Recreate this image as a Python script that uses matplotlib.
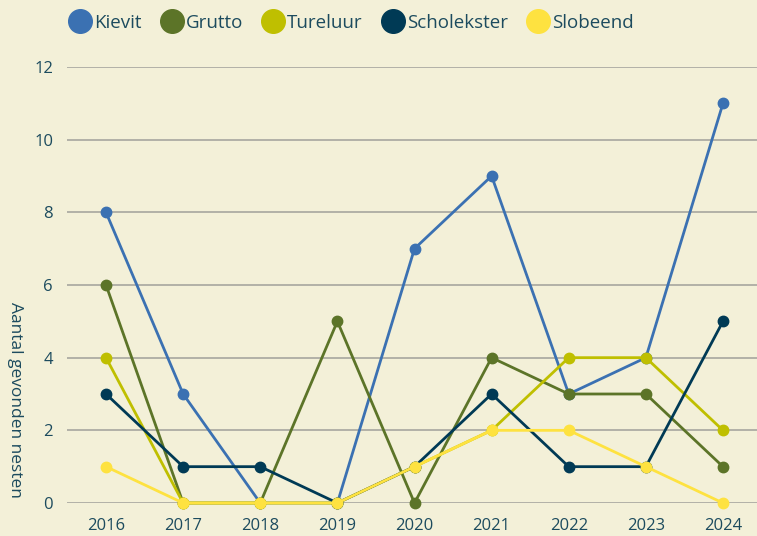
import matplotlib
matplotlib.use("Agg")
import matplotlib.pyplot as plt
from matplotlib.lines import Line2D

years = [2016, 2017, 2018, 2019, 2020, 2021, 2022, 2023, 2024]
kievit = [8, 3, 0, 0, 7, 9, 3, 4, 11]
grutto = [6, 0, 0, 5, 0, 4, 3, 3, 1]
tureluur = [4, 0, 0, 0, 1, 2, 4, 4, 2]
scholekster = [3, 1, 1, 0, 1, 3, 1, 1, 5]
slobeend = [1, 0, 0, 0, 1, 2, 2, 1, 0]
series_names = ["Kievit", "Grutto", "Tureluur", "Scholekster", "Slobeend"]
colors = ["#3b71b2", "#5c7428", "#bfbf00", "#003a55", "#fee240"]
yticks = [0, 2, 4, 6, 8, 10, 12]

bg = "#f3f0d8"
txt = "#1c4b5e"
plt.rcParams['font.family'] = ['Open Sans', 'DejaVu Sans']

fig = plt.figure(figsize=(7.57, 5.36), dpi=100, facecolor=bg)
ax = fig.add_axes([67/757, 33/536, (757-67)/757, (503-67)/536], facecolor=bg)

for name, vals, c in zip(series_names, [kievit, grutto, tureluur, scholekster, slobeend], colors):
    ax.plot(years, vals, color=c, lw=2, marker='o', ms=7.5, clip_on=False, label=name, zorder=3)

ax.set_ylim(0, 12)
ax.set_xlim(2016 - 39/77.1, 2024 + 34/77.1)
ax.set_yticks(yticks)
ax.set_xticks(years)
ax.grid(axis='y', color='#a0a09a', lw=1.1)
ax.set_axisbelow(True)
for s in ax.spines.values():
    s.set_visible(False)
ax.tick_params(axis='both', length=0, colors=txt, labelsize=12)
ax.tick_params(axis='y', pad=10)
ax.tick_params(axis='x', pad=11)
fig.text(15/757, 1 - 400/536, "Aantal gevonden nesten", rotation=-90, color=txt, fontsize=12.5,
         ha='center', va='center')

handles = [Line2D([], [], ls='none', marker='o', ms=17, color=c) for c in colors]
leg = fig.legend(handles, series_names, loc='center left', bbox_to_anchor=(50/757, 1 - 23/536),
                 ncol=5, frameon=False, fontsize=13.5, labelcolor=txt, handletextpad=0.05,
                 columnspacing=0.9, handlelength=1.4)

fig.savefig("out.png", dpi=100, facecolor=bg)
